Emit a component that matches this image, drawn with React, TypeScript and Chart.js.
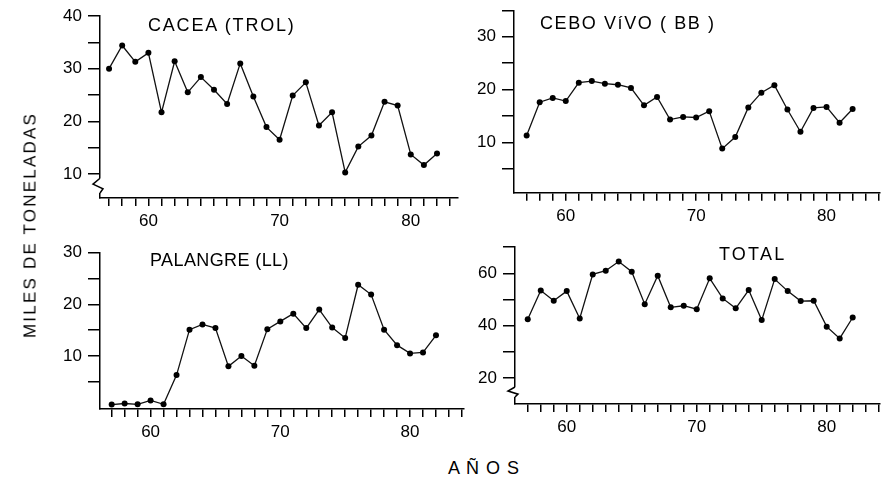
import React, { useEffect, useRef } from "react";
import { Chart, registerables } from "chart.js";

Chart.register(...registerables);

// ---- Data ----
const years = [57, 58, 59, 60, 61, 62, 63, 64, 65, 66, 67, 68, 69, 70, 71, 72, 73, 74, 75, 76, 77, 78, 79, 80, 81, 82];
const trolValues = [30, 34.4, 31.3, 33, 21.7, 31.4, 25.5, 28.4, 26, 23.3, 31, 24.7, 18.9, 16.5, 24.9, 27.4, 19.2, 21.7, 10.3, 15.2, 17.3, 23.7, 23, 13.7, 11.7, 13.9];
const bbValues = [11.3, 17.6, 18.4, 17.8, 21.3, 21.6, 21.1, 20.9, 20.3, 17, 18.6, 14.3, 14.8, 14.7, 15.9, 8.8, 11, 16.6, 19.4, 20.8, 16.2, 12, 16.5, 16.7, 13.7, 16.3];
const llValues = [0.6, 0.8, 0.65, 1.4, 0.65, 6.3, 15.1, 16.1, 15.4, 8, 10, 8.1, 15.2, 16.7, 18.2, 15.4, 19, 15.5, 13.5, 23.8, 21.9, 15.1, 12.1, 10.5, 10.7, 14];
const totalValues = [42.4, 53.4, 49.5, 53.2, 42.7, 59.6, 61, 64.5, 60.6, 48.2, 59.1, 47, 47.6, 46.3, 58.1, 50.4, 46.6, 53.6, 42.1, 57.8, 53.2, 49.4, 49.5, 39.6, 35.1, 43.1];

const xTickYears = [57, 58, 59, 60, 61, 62, 63, 64, 65, 66, 67, 68, 69, 70, 71, 72, 73, 74, 75, 76, 77, 78, 79, 80, 81, 82, 83, 84];
const xLabelYears = [60, 70, 80];

const trolYTicks = [10, 15, 20, 25, 30, 35, 40];
const trolYLabels = [10, 20, 30, 40];
const bbYTicks = [5, 10, 15, 20, 25, 30, 35];
const bbYLabels = [10, 20, 30];
const llYTicks = [5, 10, 15, 20, 25, 30];
const llYLabels = [10, 20, 30];
const totalYTicks = [20, 30, 40, 50, 60, 70];
const totalYLabels = [20, 40, 60];

const titles = ["CACEA (TROL)", "CEBO VíVO ( BB )", "PALANGRE (LL)", "TOTAL"];
const yAxisTitle = "MILES DE TONELADAS";
const xAxisTitle = "A Ñ O S";

const FONT = "'Liberation Sans', Arial, sans-serif";

type PanelCfg = {
  values: number[];
  yTicks: number[];
  yLabels: number[];
  xMin: number;
  xMax: number;
  yMin: number;
  yMax: number;
  left: number;
  top: number;
  width: number;
  height: number;
  yW: number;
  padTop: number;
  padRight: number;
  xH: number;
  breakRange?: [number, number];
};

const panels: PanelCfg[] = [
  { values: trolValues, yTicks: trolYTicks, yLabels: trolYLabels, xMin: 56.31, xMax: 83.6, yMin: 5.44, yMax: 40,
    left: 0, top: 0, width: 470, height: 240, yW: 100, padTop: 16, padRight: 12, xH: 42, breakRange: [6.4, 9.2] },
  { values: bbValues, yTicks: bbYTicks, yLabels: bbYLabels, xMin: 56.03, xMax: 84.1, yMin: 0.45, yMax: 35,
    left: 470, top: 0, width: 418, height: 240, yW: 44, padTop: 10.3, padRight: 8, xH: 47.3 },
  { values: llValues, yTicks: llYTicks, yLabels: llYLabels, xMin: 56.1, xMax: 84.16, yMin: -0.26, yMax: 30,
    left: 0, top: 240, width: 470, height: 210, yW: 100, padTop: 12.7, padRight: 6, xH: 41 },
  { values: totalValues, yTicks: totalYTicks, yLabels: totalYLabels, xMin: 56.02, xMax: 84.1, yMin: 10, yMax: 70,
    left: 470, top: 240, width: 418, height: 210, yW: 45, padTop: 7.2, padRight: 8, xH: 46, breakRange: [12.7, 16.5] },
];

const breakPlugin = {
  id: "axisBreak",
  afterDraw(chart: any, _args: any, opts: any) {
    if (!opts || !opts.range) return;
    const ys = chart.scales.y;
    const x0 = chart.chartArea.left;
    const p1 = ys.getPixelForValue(opts.range[1]);
    const p2 = ys.getPixelForValue(opts.range[0]);
    const h = p2 - p1;
    const ctx = chart.ctx;
    ctx.save();
    ctx.fillStyle = "#fff";
    ctx.fillRect(x0 - 2, p1, 4, h);
    ctx.strokeStyle = "#000";
    ctx.lineWidth = 1.5;
    ctx.beginPath();
    ctx.moveTo(x0, p1);
    ctx.lineTo(x0 - 7, p1 + h * 0.4);
    ctx.lineTo(x0 + 3, p1 + h * 0.72);
    ctx.lineTo(x0, p2);
    ctx.stroke();
    ctx.restore();
  },
};

function Panel({ cfg }: { cfg: PanelCfg }) {
  const ref = useRef<HTMLCanvasElement | null>(null);
  useEffect(() => {
    if (!ref.current) return;
    const c = cfg;
    const chart = new Chart(ref.current, {
      type: "line",
      data: {
        datasets: [
          {
            data: years.map((yr, i) => ({ x: yr, y: c.values[i] })),
            borderColor: "#111",
            borderWidth: 1.3,
            pointRadius: 3,
            pointBackgroundColor: "#000",
            pointBorderWidth: 0,
            tension: 0,
            fill: false,
          },
        ],
      },
      options: {
        animation: false,
        responsive: false,
        maintainAspectRatio: false,
        layout: { padding: { top: c.padTop, right: c.padRight, left: 0, bottom: 0 } },
        plugins: {
          legend: { display: false },
          tooltip: { enabled: false },
          axisBreak: { range: c.breakRange },
        } as any,
        scales: {
          x: {
            type: "linear",
            min: c.xMin,
            max: c.xMax,
            afterBuildTicks: (s: any) => {
              s.ticks = xTickYears.filter((v) => v >= c.xMin && v <= c.xMax).map((v) => ({ value: v }));
            },
            afterFit: (s: any) => {
              s.height = c.xH;
              s.paddingLeft = 0;
              s.paddingRight = 0;
            },
            ticks: {
              autoSkip: false,
              maxRotation: 0,
              padding: 5,
              color: "#000",
              font: { family: FONT, size: 17 },
              callback: (v: any) => (xLabelYears.includes(Number(v)) ? String(v) : ""),
            },
            grid: { drawOnChartArea: false, drawTicks: true, tickLength: 8, color: "#000", lineWidth: 1.5 },
            border: { display: true, color: "#000", width: 1.5 },
          },
          y: {
            type: "linear",
            min: c.yMin,
            max: c.yMax,
            afterBuildTicks: (s: any) => {
              s.ticks = c.yTicks.map((v) => ({ value: v }));
            },
            afterFit: (s: any) => {
              s.width = c.yW;
              s.paddingTop = 0;
              s.paddingBottom = 0;
            },
            ticks: {
              autoSkip: false,
              padding: 6,
              color: "#000",
              font: { family: FONT, size: 17 },
              callback: (v: any) => (c.yLabels.includes(Number(v)) ? String(v) : ""),
            },
            grid: { drawOnChartArea: false, drawTicks: true, tickLength: 12, color: "#000", lineWidth: 1.5 },
            border: { display: true, color: "#000", width: 1.5 },
          },
        },
      } as any,
      plugins: [breakPlugin],
    });
    return () => chart.destroy();
  }, [cfg]);
  return (
    <canvas
      ref={ref}
      width={cfg.width}
      height={cfg.height}
      style={{ position: "absolute", left: cfg.left, top: cfg.top, width: cfg.width, height: cfg.height }}
    />
  );
}

const titleBase: React.CSSProperties = {
  position: "absolute",
  fontFamily: FONT,
  fontSize: 18,
  lineHeight: "18px",
  color: "#000",
  whiteSpace: "nowrap",
};

export default function App() {
  return (
    <div style={{ position: "fixed", left: 0, top: 0, width: 888, height: 478, background: "#fff", overflow: "hidden" }}>
      {panels.map((p, i) => (
        <Panel key={i} cfg={p} />
      ))}
      <div style={{ ...titleBase, left: 148, top: 15.6, letterSpacing: 1.8 }}>{titles[0]}</div>
      <div style={{ ...titleBase, left: 540, top: 13.6, letterSpacing: 1.6 }}>{titles[1]}</div>
      <div style={{ ...titleBase, left: 150, top: 250.6, letterSpacing: 0.4 }}>{titles[2]}</div>
      <div style={{ ...titleBase, left: 719, top: 244.6, letterSpacing: 2.2 }}>{titles[3]}</div>
      <div
        style={{
          ...titleBase,
          fontSize: 17,
          lineHeight: "17px",
          letterSpacing: 2.2,
          left: 30,
          top: 225,
          transform: "translate(-50%, -50%) rotate(-90deg)",
        }}
      >
        {yAxisTitle}
      </div>
      <div style={{ ...titleBase, left: 484, top: 459, transform: "translateX(-50%)", letterSpacing: 1 }}>{xAxisTitle}</div>
    </div>
  );
}
